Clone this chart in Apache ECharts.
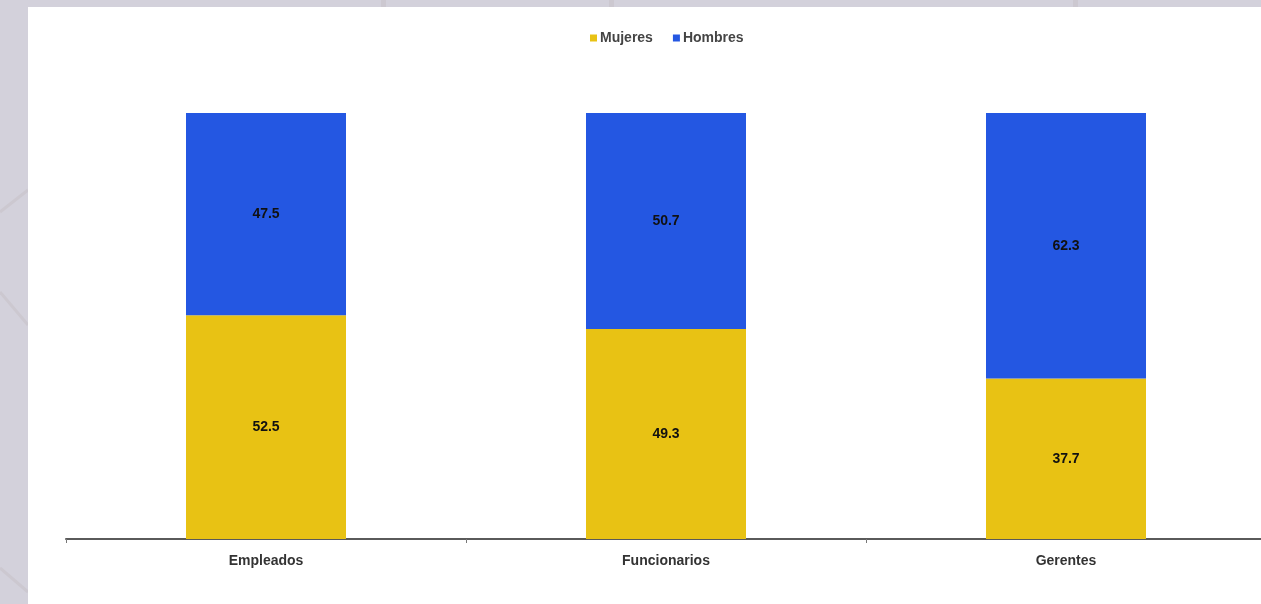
<!DOCTYPE html>
<html>
<head>
<meta charset="utf-8">
<title>Mujeres y Hombres por puesto</title>
<script src="https://cdn.jsdelivr.net/npm/echarts@6/dist/echarts.min.js"></script>
<style>
  html, body { margin: 0; padding: 0; background: #d3d1db; overflow: hidden; }
  /* the axis runs slightly past the right edge of the window */
  #chart { width: 1272px; height: 604px; }
</style>
</head>
<body>
<div id="chart"></div>
<script>
// Share of women and men by job level (%)
const categories = ['Empleados', 'Funcionarios', 'Gerentes'];
const mujeres = [52.5, 49.3, 37.7];
const hombres = [47.5, 50.7, 62.3];
const seriesNames = ['Mujeres', 'Hombres'];

const FONT = "'Liberation Sans', Arial, sans-serif";
const YELLOW = '#e8c214';
const BLUE = '#2457e2';

const chart = echarts.init(document.getElementById('chart'), null, { renderer: 'canvas' });

const barLabel = {
  show: true,
  position: 'inside',
  color: '#111',
  fontFamily: FONT,
  fontWeight: 'bold',
  fontSize: 14,
  formatter: p => p.value.toFixed(1)
};

chart.setOption({
  backgroundColor: '#d3d1db',
  animation: false,
  graphic: [
    // faint decorative strokes on the grey margin
    { type: 'line', z: -2, shape: { x1: 0, y1: 212, x2: 28, y2: 190 }, style: { stroke: '#ccc8d0', lineWidth: 3 } },
    { type: 'line', z: -2, shape: { x1: 0, y1: 292, x2: 28, y2: 325 }, style: { stroke: '#ccc8d0', lineWidth: 3 } },
    { type: 'line', z: -2, shape: { x1: 0, y1: 568, x2: 28, y2: 592 }, style: { stroke: '#ccc8d0', lineWidth: 3 } },
    { type: 'rect', z: -2, shape: { x: 381, y: 0, width: 5, height: 7 }, style: { fill: '#ccc8d0' } },
    { type: 'rect', z: -2, shape: { x: 609, y: 0, width: 5, height: 7 }, style: { fill: '#ccc8d0' } },
    { type: 'rect', z: -2, shape: { x: 1073, y: 0, width: 5, height: 7 }, style: { fill: '#ccc8d0' } },
    // white chart panel
    { type: 'rect', z: -1, shape: { x: 28, y: 7, width: 1250, height: 600 }, style: { fill: '#ffffff' } }
  ],
  legend: {
    top: 26,
    left: 585,
    itemWidth: 7,
    itemHeight: 7,
    itemGap: 20,
    icon: 'rect',
    data: seriesNames,
    textStyle: { fontFamily: FONT, fontWeight: 'bold', fontSize: 14, color: '#444', padding: [0, 0, 0, -2] }
  },
  grid: { left: 66, top: 113, width: 1200, height: 426, containLabel: false },
  xAxis: {
    type: 'category',
    data: categories,
    axisLine: { lineStyle: { color: '#5a5a5a', width: 2 } },
    axisTick: { show: true, length: 4, lineStyle: { color: '#777' } },
    axisLabel: { fontFamily: FONT, fontWeight: 'bold', fontSize: 14, color: '#333', margin: 15 }
  },
  yAxis: {
    type: 'value',
    min: 0,
    max: 100,
    show: false,
    splitLine: { show: false }
  },
  series: [
    {
      name: seriesNames[0],
      type: 'bar',
      stack: 'total',
      barWidth: 160,
      data: mujeres,
      itemStyle: { color: YELLOW },
      label: barLabel
    },
    {
      name: seriesNames[1],
      type: 'bar',
      stack: 'total',
      barWidth: 160,
      data: hombres,
      itemStyle: { color: BLUE },
      label: barLabel
    }
  ]
});
</script>
</body>
</html>
